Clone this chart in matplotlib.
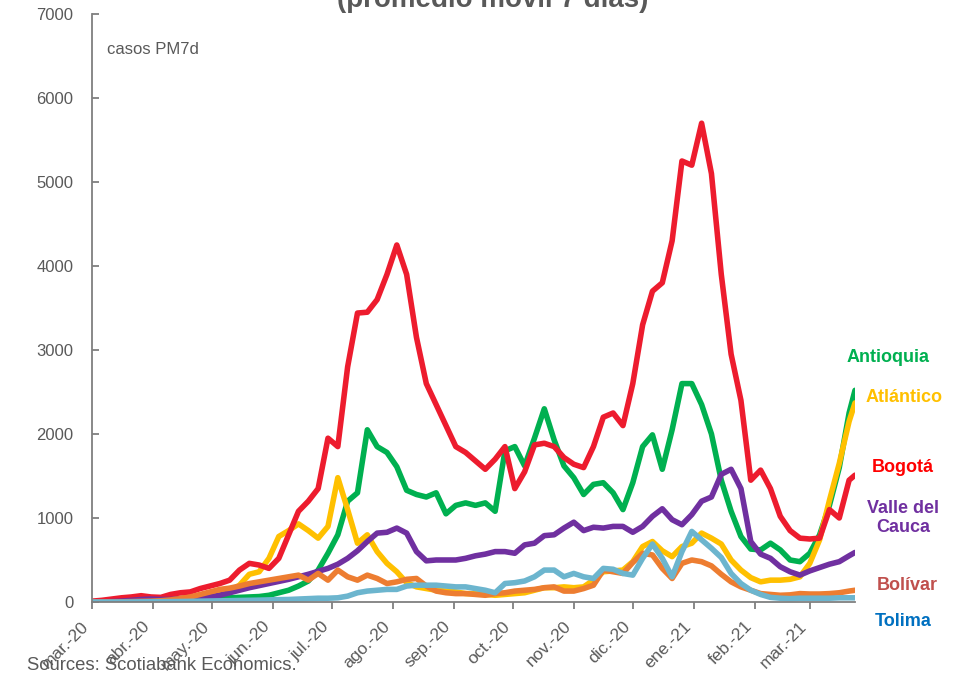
import pandas as pd, matplotlib
matplotlib.use("Agg")
import matplotlib.pyplot as plt
from matplotlib.transforms import ScaledTranslation

plt.rcParams["font.family"] = ["Liberation Sans", "DejaVu Sans"]

# 5-day sampling grid, last point = last day in the series
dates = list(pd.date_range("2020-03-01", periods=78, freq="5D")) + [pd.Timestamp("2021-03-24")]

antioquia = [0, 0, 2, 5, 8, 10, 12, 15, 18, 20,
             25, 30, 35, 40, 50, 55, 60, 65, 80, 110,
             140, 190, 250, 380, 580, 800, 1200, 1300, 2050, 1850,
             1780, 1610, 1330, 1280, 1250, 1300, 1050, 1150, 1180, 1150,
             1180, 1080, 1800, 1850, 1620, 1950, 2300, 1930, 1620, 1480,
             1280, 1400, 1420, 1300, 1100, 1420, 1850, 1990, 1580, 2050,
             2600, 2600, 2350, 2000, 1450, 1080, 780, 630, 620, 700,
             620, 500, 480, 580, 800, 1150, 1600, 2250, 2520]
atlantico = [0, 0, 2, 5, 10, 15, 20, 25, 35, 45,
             60, 70, 80, 100, 130, 200, 330, 360, 520, 780,
             850, 930, 850, 760, 900, 1480, 1100, 700, 800, 600,
             460, 360, 230, 180, 160, 140, 130, 120, 100, 100,
             90, 80, 90, 100, 110, 140, 170, 170, 180, 170,
             180, 260, 360, 370, 380, 480, 660, 720, 610, 540,
             660, 700, 820, 760, 690, 500, 380, 290, 240, 260,
             260, 270, 300, 460, 740, 1210, 1650, 2150, 2370]
bogota = [10, 20, 35, 50, 60, 75, 60, 55, 90, 110,
          120, 160, 190, 220, 260, 380, 460, 440, 400, 520,
          800, 1080, 1200, 1350, 1950, 1850, 2800, 3440, 3450, 3600,
          3900, 4250, 3900, 3150, 2600, 2350, 2100, 1850, 1780, 1680,
          1580, 1700, 1850, 1350, 1550, 1870, 1890, 1850, 1720, 1640,
          1600, 1850, 2200, 2250, 2100, 2600, 3300, 3700, 3800, 4300,
          5250, 5200, 5700, 5100, 3900, 2950, 2400, 1450, 1570, 1350,
          1020, 850, 760, 750, 760, 1100, 1000, 1450, 1510]
valle = [0, 0, 5, 10, 20, 30, 35, 30, 30, 40,
         45, 50, 60, 80, 110, 140, 170, 195, 220, 245,
         270, 300, 330, 365, 400, 450, 520, 610, 720, 820,
         830, 880, 820, 600, 490, 500, 500, 500, 520, 550,
         570, 600, 600, 580, 680, 700, 790, 800, 880, 950,
         850, 890, 880, 900, 900, 830, 900, 1020, 1110, 980,
         920, 1040, 1200, 1250, 1520, 1580, 1350, 720, 570, 520,
         420, 360, 320, 370, 410, 450, 480, 550, 590]
bolivar = [0, 0, 0, 2, 5, 8, 10, 15, 25, 40,
           60, 90, 120, 150, 165, 190, 220, 240, 260, 280,
           300, 320, 260, 340, 260, 380, 300, 260, 320, 280,
           220, 240, 270, 280, 190, 130, 110, 100, 100, 90,
           80, 100, 110, 130, 140, 150, 170, 180, 130, 130,
           160, 200, 380, 360, 340, 470, 580, 560, 400, 280,
           460, 500, 480, 430, 330, 240, 180, 140, 100, 90,
           80, 85, 100, 95, 95, 100, 110, 130, 140]
tolima = [0, 0, 0, 0, 0, 2, 3, 4, 5, 6,
          8, 10, 12, 14, 16, 18, 20, 22, 25, 28,
          30, 35, 40, 45, 45, 50, 70, 110, 130, 140,
          150, 150, 190, 200, 200, 200, 190, 180, 180, 160,
          140, 110, 220, 230, 250, 300, 380, 380, 300, 340,
          300, 280, 400, 390, 340, 320, 520, 690, 520, 300,
          600, 840, 740, 640, 530, 340, 220, 140, 90, 55,
          45, 40, 45, 45, 45, 45, 50, 50, 50]

month_ticks = pd.date_range("2020-03-01", "2021-03-01", freq="MS")
month_labels = ["mar.-20", "abr.-20", "may.-20", "jun.-20", "jul.-20", "ago.-20", "sep.-20",
                "oct.-20", "nov.-20", "dic.-20", "ene.-21", "feb.-21", "mar.-21"]

# name, values, line colour, label colour, label x/y (px)
series = [("Antioquia", antioquia, "#00B050", "#00B050", 888, 358),
          ("Atlántico", atlantico, "#FFC000", "#FFC000", 904, 398),
          ("Bogotá", bogota, "#ED1C2E", "#FF0000", 903, 467),
          ("Valle del\nCauca", valle, "#7030A0", "#7030A0", 903, 518),
          ("Bolívar", bolivar, "#ED7D31", "#C0504D", 907, 586),
          ("Tolima", tolima, "#6CB5CE", "#0070C0", 903, 621)]

grey = "#595959"
W, H = 961, 674
fig = plt.figure(figsize=(W / 100, H / 100), dpi=100)
ax = fig.add_axes([92 / W, 72 / H, (855 - 92) / W, 588 / H])

for name, vals, c, tc, lx, ly in series:
    ax.plot(dates, vals, color=c, lw=4, solid_joinstyle="round", solid_capstyle="round")
    fig.text(lx / W, 1 - ly / H, name, color=tc, fontsize=13, fontweight="bold",
             ha="center", va="center", linespacing=1.2)

ax.set_xlim(pd.Timestamp("2020-03-01"), pd.Timestamp("2021-03-24"))
ax.set_ylim(0, 7000)
ax.set_yticks(range(0, 7001, 1000))
ax.set_xticks(month_ticks)
ax.set_xticklabels(month_labels, rotation=45, ha="right")
for lbl in ax.get_xticklabels():
    lbl.set_transform(lbl.get_transform() + ScaledTranslation(9 / 100, 0, fig.dpi_scale_trans))

for s in ["top", "right"]:
    ax.spines[s].set_visible(False)
for s in ["left", "bottom"]:
    ax.spines[s].set_color("#7f7f7f")
    ax.spines[s].set_linewidth(1.3)
ax.tick_params(axis="y", direction="in", length=5, width=1.3, color="#7f7f7f",
               labelsize=12, labelcolor=grey, pad=13.5)
ax.tick_params(axis="x", direction="out", length=5, width=1.3, color="#7f7f7f",
               labelsize=12.5, labelcolor=grey, pad=7)

fig.text(107 / W, 1 - 49 / H, "casos PM7d", fontsize=12, color=grey, va="center")
fig.text(0.513, 1 - 7 / H, "(promedio móvil 7 días)", ha="center", va="baseline",
         fontsize=20, fontweight="bold", color=grey)
fig.text(27 / W, 1 - 666 / H, "Sources: Scotiabank Economics.", fontsize=13.3,
         color=grey, va="center")

fig.savefig("out.png", dpi=100)
